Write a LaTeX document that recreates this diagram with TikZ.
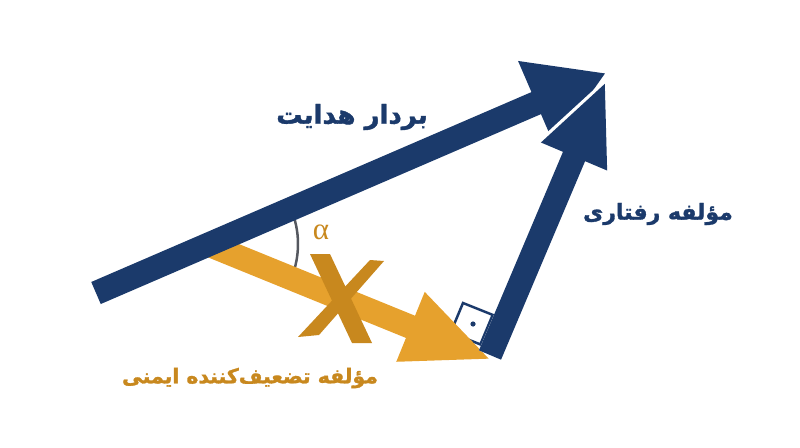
\documentclass[tikz,border=0pt]{standalone}
\usepackage{fontspec}
\usetikzlibrary{arrows.meta}
\TeXXeTstate=1
\newfontfamily\arabicfont[Script=Arabic, BoldFeatures={FakeBold=1.5}]{DejaVu Sans}
\newfontfamily\greekfont{Liberation Serif}
\definecolor{navy}{HTML}{1B3A6B}
\definecolor{amber}{HTML}{E6A12D}
\definecolor{gold}{HTML}{C8881E}
\definecolor{arcgray}{HTML}{55585F}

\begin{document}
\begin{tikzpicture}[x=1pt,y=-1pt]
\tikzstyle{guide}=[line width=24pt, draw=navy, -{Triangle[length=76pt,width=86pt]}]
\tikzstyle{behave}=[line width=24pt, draw=navy, -{Triangle[length=82pt,width=65pt]}]
\tikzstyle{gap}=[line width=24pt, draw=white, shorten >=-8pt, -{Triangle[length=93pt,width=74pt]}]
\tikzstyle{weaken}=[line width=24pt, draw=amber, -{Triangle[length=88pt,width=68pt]}]
\tikzstyle{bluelabel}=[text=navy, font=\arabicfont\bfseries]
\tikzstyle{goldlabel}=[text=gold, font=\arabicfont\bfseries]

  \useasboundingbox (0,0) rectangle (800,447);

  % end points of the three vectors
  \coordinate (gtail) at (96,293);
  \coordinate (gtip) at (606,73);
  \coordinate (btail) at (490,355);
  \coordinate (btip) at (606,81);
  \coordinate (wtail) at (207,244);
  \coordinate (wtip) at (492,360);

  % angle alpha
  \draw[arcgray, line width=2.5pt] (wtail) ++(-23:91) arc[start angle=-23, end angle=22, radius=91];
  \node[text=gold, font=\greekfont\fontsize{31}{31}\selectfont] (alpha) at (321,232) {α};

  % right angle mark
  \coordinate (sqa) at (463,303);
  \coordinate (sqdot) at (473,324);
  \draw[navy, line width=2.5pt] (sqa) -- ++(21.8:32) -- ++(112.7:32) -- ++(201.8:32) -- cycle;
  \fill[navy] (sqdot) circle (2.6);

  \draw[weaken] (wtail) -- (wtip);
  \draw[guide] (gtail) -- (gtip);
  \draw[gap] (btail) -- (btip);
  \draw[behave] (btail) -- (btip);

  % cross over the weakening part
  \fill[gold] (310,254) -- (330,254) -- (372,343) -- (352,343) -- cycle;
  \fill[gold] (370,260) -- (384,261) -- (319,335) -- (298,337) -- cycle;

  \node[bluelabel] (glabel) at (352,117) {\fontsize{26}{30}\selectfont\beginR بردار هدایت\endR};
  \node[bluelabel] (blabel) at (658,214) {\fontsize{22}{26}\selectfont\beginR مؤلفه رفتاری\endR};
  \node[goldlabel] (wlabel) at (250,378) {\fontsize{20.4}{24}\selectfont\beginR مؤلفه تضعیف‌کننده ایمنی\endR};
\end{tikzpicture}
\end{document}
